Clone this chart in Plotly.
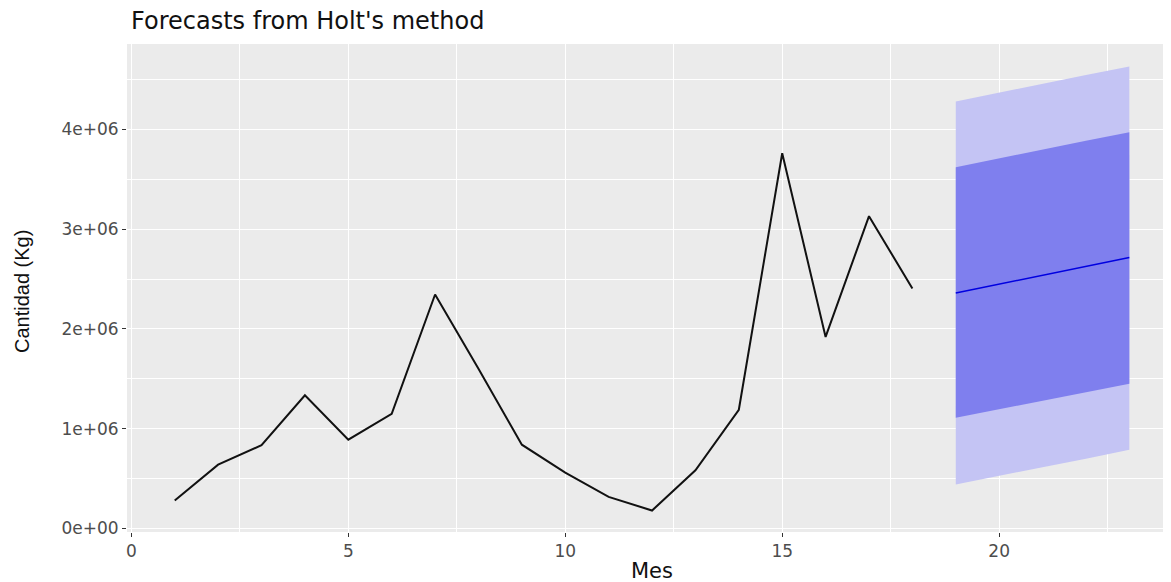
import plotly.graph_objects as go

# Observed series
mes = [1, 2, 3, 4, 5, 6, 7, 8, 9, 10, 11, 12, 13, 14, 15, 16, 17, 18]
cantidad = [0.28e6, 0.64e6, 0.835e6, 1.335e6, 0.89e6, 1.15e6, 2.345e6, 1.60e6, 0.84e6,
            0.56e6, 0.317e6, 0.18e6, 0.584e6, 1.19e6, 3.76e6, 1.92e6, 3.13e6, 2.405e6]

# Forecast (Holt)
mes_fc = [19, 20, 21, 22, 23]
media = [2.36e6, 2.45e6, 2.54e6, 2.625e6, 2.715e6]
lo80 = [1.11e6, 1.195e6, 1.28e6, 1.365e6, 1.45e6]
hi80 = [3.62e6, 3.71e6, 3.795e6, 3.885e6, 3.97e6]
lo95 = [0.44e6, 0.53e6, 0.615e6, 0.70e6, 0.79e6]
hi95 = [4.28e6, 4.37e6, 4.455e6, 4.545e6, 4.63e6]

x_ticks = [0, 5, 10, 15, 20]
y_ticks = [0, 1e6, 2e6, 3e6, 4e6]
y_ticktext = ["0e+00", "1e+06", "2e+06", "3e+06", "4e+06"]

fig = go.Figure()

# 95% band
fig.add_trace(go.Scatter(x=mes_fc, y=lo95, mode="lines", line=dict(width=0),
                         showlegend=False, hoverinfo="skip"))
fig.add_trace(go.Scatter(x=mes_fc, y=hi95, mode="lines", line=dict(width=0),
                         fill="tonexty", fillcolor="#C4C4F4", showlegend=False))
# 80% band
fig.add_trace(go.Scatter(x=mes_fc, y=lo80, mode="lines", line=dict(width=0),
                         showlegend=False, hoverinfo="skip"))
fig.add_trace(go.Scatter(x=mes_fc, y=hi80, mode="lines", line=dict(width=0),
                         fill="tonexty", fillcolor="#7F7FEE", showlegend=False))
# mean forecast
fig.add_trace(go.Scatter(x=mes_fc, y=media, mode="lines",
                         line=dict(color="#0000E0", width=1.6), showlegend=False))
# observed
fig.add_trace(go.Scatter(x=mes, y=cantidad, mode="lines",
                         line=dict(color="#111111", width=2), showlegend=False))

# page body has an 8px margin: figure sits at (8, 8) in the viewport
OFF = 8
W, H = 1171 - OFF, 582 - OFF
ml, mr, mt, mb = 127 - OFF, 0, 44 - OFF, 582 - 532
pw = W - ml - mr
ph = H - mt - mb

fig.update_layout(
    width=W, height=H,
    margin=dict(l=ml, r=mr, t=mt, b=mb),
    paper_bgcolor="white",
    plot_bgcolor="#EBEBEB",
    font=dict(family="DejaVu Sans", color="#4D4D4D"),
    showlegend=False,
)

# title as an annotation, kept fully inside the figure
fig.add_annotation(text="Forecasts from Holt's method", xref="paper", yref="paper",
                   x=(129 - 127) / pw, y=1 + (44 - 21) / ph,
                   xanchor="left", yanchor="middle", showarrow=False,
                   font=dict(family="DejaVu Sans", size=24, color="#111111"))

fig.update_xaxes(
    range=[-0.1, 23.96],
    tickmode="array", tickvals=x_ticks,
    ticks="outside", ticklen=4, tickwidth=1, tickcolor="#333333",
    tickfont=dict(family="DejaVu Sans", size=17, color="#4D4D4D"),
    showgrid=True, gridcolor="white", gridwidth=1.3,
    minor=dict(dtick=2.5, tick0=0, showgrid=True, gridcolor="white", gridwidth=0.6, ticks=""),
    zeroline=False, showline=False,
)
fig.update_yaxes(
    range=[-0.035e6, 4.855e6],
    tickmode="array", tickvals=y_ticks, ticktext=y_ticktext,
    ticks="outside", ticklen=4, tickwidth=1, tickcolor="#333333",
    tickfont=dict(family="DejaVu Sans", size=17, color="#4D4D4D"),
    showgrid=True, gridcolor="white", gridwidth=1.3,
    minor=dict(dtick=0.5e6, tick0=0, showgrid=True, gridcolor="white", gridwidth=0.6, ticks=""),
    zeroline=False, showline=False,
)

# axis titles
fig.add_annotation(text="Mes", xref="paper", yref="paper",
                   x=(652 - 127) / pw, y=-(571 - 532) / ph,
                   xanchor="center", yanchor="middle", showarrow=False,
                   font=dict(family="DejaVu Sans", size=21, color="#111111"))
fig.add_annotation(text="Cantidad (Kg)", xref="paper", yref="paper",
                   x=-(127 - 22) / pw, y=(532 - 292) / ph,
                   xanchor="center", yanchor="middle", showarrow=False, textangle=-90,
                   font=dict(family="Liberation Sans", size=20, color="#111111"))

fig.write_html("out.html")
